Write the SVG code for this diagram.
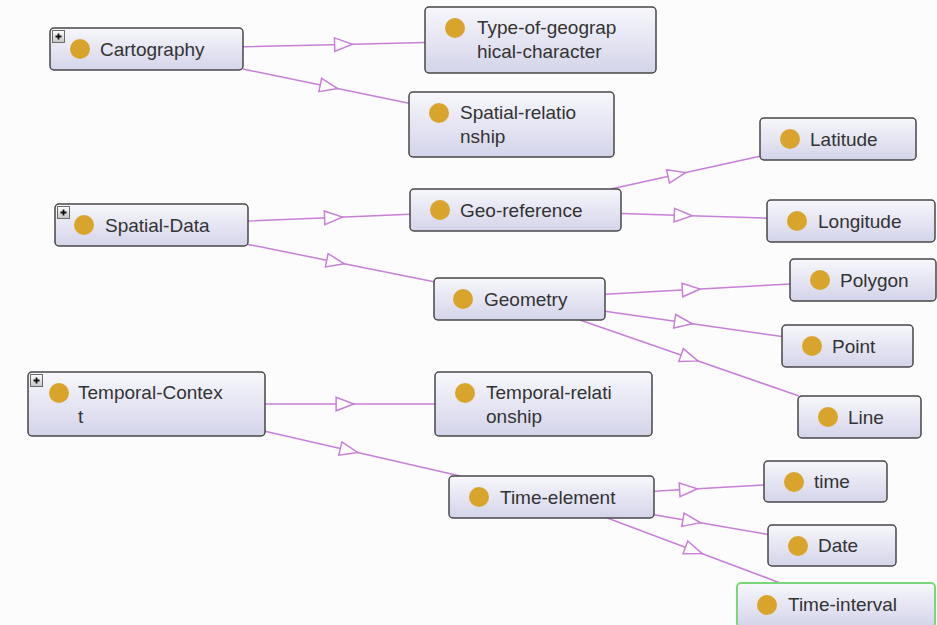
<svg xmlns="http://www.w3.org/2000/svg" width="937" height="625" viewBox="0 0 937 625">
  <defs>
    <linearGradient id="nodeFill" x1="0" y1="0" x2="0" y2="1">
      <stop offset="0" stop-color="#f7f7fc"/>
      <stop offset="1" stop-color="#d4d4ea"/>
    </linearGradient>
    <linearGradient id="iconFill" x1="0" y1="0" x2="0" y2="1">
      <stop offset="0" stop-color="#ffffff"/>
      <stop offset="1" stop-color="#c4c4c4"/>
    </linearGradient>
    <marker id="tri" markerUnits="userSpaceOnUse" markerWidth="22" markerHeight="18" viewBox="-2 -2 21 17" refX="8.5" refY="6.5" orient="auto">
      <path d="M0,0 L17,6.5 L0,13 Z" fill="#ffffff" stroke="#c77fd8" stroke-width="1.4"/>
    </marker>
    <style>
      .box { fill: url(#nodeFill); stroke: #474747; stroke-width: 1.5; }
      .box.sel { stroke: #79d679; stroke-width: 2; }
      .dot { fill: #d9a42b; }
      .lbl { font-family: "Liberation Sans", Arial, sans-serif; font-size: 19px; fill: #333333; }
      .icon { fill: url(#iconFill); stroke: #6a6a6a; stroke-width: 1; }
      .plus { stroke: #111; stroke-width: 1.8; }
      .edge { fill: none; stroke: #c77fd8; stroke-width: 1.5; marker-mid: url(#tri); }
    </style>
  </defs>

  <rect width="937" height="625" fill="#fcfcfc"/>

  <!-- subclass links: line between box borders, arrow at centre midpoint -->
  <g id="edges">
    <polyline class="edge" points="243,46.8 343.5,44.5 425,42.6"/>
    <polyline class="edge" points="243,69 329,86.75 409,103.3"/>
    <polyline class="edge" points="248,221 333.5,217.5 410,214.3"/>
    <polyline class="edge" points="248,244.4 335.5,262 434,281.8"/>
    <polyline class="edge" points="610.9,189 676.75,174.5 760,156.2"/>
    <polyline class="edge" points="621,213.5 683.25,215.5 767,218.2"/>
    <polyline class="edge" points="605,294.3 691.25,289.5 790,284"/>
    <polyline class="edge" points="605,311.3 683.5,322.5 782,336.6"/>
    <polyline class="edge" points="580,320 689.5,358 799,396"/>
    <polyline class="edge" points="265,404 345,404 435,404"/>
    <polyline class="edge" points="265,431.2 349,450.5 460.1,476"/>
    <polyline class="edge" points="654,491.2 688.5,489.25 764,485"/>
    <polyline class="edge" points="654,514.7 691.75,521.25 768,534.4"/>
    <polyline class="edge" points="607.3,518 693.75,550.5 780.2,583"/>
  </g>

  <g id="cartography">
    <rect class="box" x="50" y="28" width="193" height="42" rx="4"/>
    <rect class="icon" x="52.5" y="30.5" width="12" height="12"/>
    <path class="plus" d="M55.5,36.5 H61.5 M58.5,33.5 V39.5"/>
    <circle class="dot" cx="80" cy="49" r="10"/>
    <text class="lbl" x="100" y="55.5">Cartography</text>
  </g>

  <g id="type-of-geographical-character">
    <rect class="box" x="425" y="7" width="231" height="66" rx="4"/>
    <circle class="dot" cx="455" cy="28" r="10"/>
    <text class="lbl" x="477" y="34">Type-of-geograp</text>
    <text class="lbl" x="477" y="58">hical-character</text>
  </g>

  <g id="spatial-relationship">
    <rect class="box" x="409" y="92" width="205" height="65" rx="4"/>
    <circle class="dot" cx="439" cy="113" r="10"/>
    <text class="lbl" x="460" y="119">Spatial-relatio</text>
    <text class="lbl" x="460" y="143">nship</text>
  </g>

  <g id="latitude">
    <rect class="box" x="760" y="118" width="156" height="42" rx="4"/>
    <circle class="dot" cx="790" cy="139" r="10"/>
    <text class="lbl" x="810" y="145.5">Latitude</text>
  </g>

  <g id="geo-reference">
    <rect class="box" x="410" y="189" width="211" height="42" rx="4"/>
    <circle class="dot" cx="440" cy="210" r="10"/>
    <text class="lbl" x="460" y="216.5">Geo-reference</text>
  </g>

  <g id="longitude">
    <rect class="box" x="767" y="200" width="168" height="42" rx="4"/>
    <circle class="dot" cx="797" cy="221" r="10"/>
    <text class="lbl" x="818" y="227.5">Longitude</text>
  </g>

  <g id="spatial-data">
    <rect class="box" x="55" y="204" width="193" height="42" rx="4"/>
    <rect class="icon" x="57.5" y="206.5" width="12" height="12"/>
    <path class="plus" d="M60.5,212.5 H66.5 M63.5,209.5 V215.5"/>
    <circle class="dot" cx="84" cy="225" r="10"/>
    <text class="lbl" x="105" y="231.5">Spatial-Data</text>
  </g>

  <g id="polygon">
    <rect class="box" x="790" y="259" width="146" height="42" rx="4"/>
    <circle class="dot" cx="820" cy="280" r="10"/>
    <text class="lbl" x="840" y="286.5">Polygon</text>
  </g>

  <g id="geometry">
    <rect class="box" x="434" y="278" width="171" height="42" rx="4"/>
    <circle class="dot" cx="463" cy="299" r="10"/>
    <text class="lbl" x="484" y="305.5">Geometry</text>
  </g>

  <g id="point">
    <rect class="box" x="782" y="325" width="131" height="42" rx="4"/>
    <circle class="dot" cx="812" cy="346" r="10"/>
    <text class="lbl" x="832" y="352.5">Point</text>
  </g>

  <g id="line">
    <rect class="box" x="798" y="396" width="123" height="42" rx="4"/>
    <circle class="dot" cx="828" cy="417" r="10"/>
    <text class="lbl" x="848" y="423.5">Line</text>
  </g>

  <g id="temporal-context">
    <rect class="box" x="28" y="372" width="237" height="64" rx="4"/>
    <rect class="icon" x="30.5" y="374.5" width="12" height="12"/>
    <path class="plus" d="M33.5,380.5 H39.5 M36.5,377.5 V383.5"/>
    <circle class="dot" cx="59" cy="393" r="10"/>
    <text class="lbl" x="78" y="399">Temporal-Contex</text>
    <text class="lbl" x="78" y="423">t</text>
  </g>

  <g id="temporal-relationship">
    <rect class="box" x="435" y="372" width="217" height="64" rx="4"/>
    <circle class="dot" cx="465" cy="393" r="10"/>
    <text class="lbl" x="486" y="399">Temporal-relati</text>
    <text class="lbl" x="486" y="423">onship</text>
  </g>

  <g id="time-element">
    <rect class="box" x="449" y="476" width="205" height="42" rx="4"/>
    <circle class="dot" cx="479" cy="497" r="10"/>
    <text class="lbl" x="500" y="503.5">Time-element</text>
  </g>

  <g id="time">
    <rect class="box" x="764" y="461" width="123" height="41" rx="4"/>
    <circle class="dot" cx="794" cy="482" r="10"/>
    <text class="lbl" x="814" y="488">time</text>
  </g>

  <g id="date">
    <rect class="box" x="768" y="525" width="128" height="41" rx="4"/>
    <circle class="dot" cx="798" cy="546" r="10"/>
    <text class="lbl" x="818" y="552">Date</text>
  </g>

  <g id="time-interval">
    <rect class="box sel" x="737" y="583" width="198" height="44" rx="4"/>
    <circle class="dot" cx="767" cy="605" r="10"/>
    <text class="lbl" x="788" y="611">Time-interval</text>
  </g>
</svg>
